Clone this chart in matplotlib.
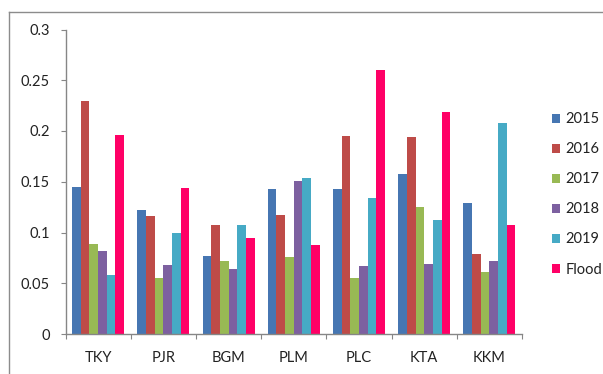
import matplotlib
matplotlib.use("Agg")
import matplotlib.pyplot as plt
from matplotlib.lines import Line2D
import numpy as np

# station codes and yearly index values
stations = ["TKY", "PJR", "BGM", "PLM", "PLC", "KTA", "KKM"]
series_names = ["2015", "2016", "2017", "2018", "2019", "Flood"]
v2015 = [0.145, 0.122, 0.077, 0.143, 0.143, 0.158, 0.129]
v2016 = [0.230, 0.116, 0.107, 0.117, 0.195, 0.194, 0.079]
v2017 = [0.089, 0.055, 0.072, 0.076, 0.055, 0.125, 0.061]
v2018 = [0.082, 0.068, 0.064, 0.151, 0.067, 0.069, 0.072]
v2019 = [0.058, 0.100, 0.107, 0.154, 0.134, 0.112, 0.208]
flood = [0.196, 0.144, 0.095, 0.088, 0.260, 0.219, 0.107]
yticks = [0, 0.05, 0.1, 0.15, 0.2, 0.25, 0.3]
ytick_labels = ["0", "0.05", "0.1", "0.15", "0.2", "0.25", "0.3"]

colors = ["#4676B2", "#BE4B48", "#98B954", "#7D60A0", "#46AAC5", "#FF0066"]
axis_gray = "#868686"

plt.rcParams["font.family"] = ["Lato", "DejaVu Sans"]

W, H = 603, 374
fig = plt.figure(figsize=(W / 100, H / 100), dpi=100)
ax = fig.add_axes([65.5 / W, (H - 334) / H, (522 - 65.5) / W, (334 - 29.5) / H])

data = [v2015, v2016, v2017, v2018, v2019, flood]
x = np.arange(len(stations))
bw = 0.133
for i, (vals, c, name) in enumerate(zip(data, colors, series_names)):
    ax.bar(x + (i - 2.5) * bw, vals, width=bw, color=c, label=name, linewidth=0)

ax.set_xlim(-0.5, len(stations) - 0.5)
ax.set_ylim(0, 0.3)
ax.set_yticks(yticks)
ax.set_yticklabels(ytick_labels)

# category dividers as major ticks, names on minor ticks
ax.set_xticks(np.arange(-0.5, len(stations), 1.0))
ax.set_xticklabels([])
ax.set_xticks(x, minor=True)
ax.set_xticklabels(stations, minor=True)
ax.tick_params(axis="x", which="major", length=3.5, color=axis_gray, direction="out")
ax.tick_params(axis="x", which="minor", length=0, pad=12, labelsize=10.5, labelcolor="#222222")
ax.tick_params(axis="y", length=3.5, color=axis_gray, pad=8, labelsize=10.5, labelcolor="#222222")

for s in ["top", "right"]:
    ax.spines[s].set_visible(False)
for s in ["left", "bottom"]:
    ax.spines[s].set_color(axis_gray)
    ax.spines[s].set_linewidth(1.0)

# chart area border (top and left edges visible)
fig.add_artist(Line2D([9 / W, 9 / W], [0, (H - 12) / H], color="#8c8c8c", lw=1.0,
                      transform=fig.transFigure))
fig.add_artist(Line2D([9 / W, 1], [(H - 12) / H, (H - 12) / H], color="#8c8c8c", lw=1.0,
                      transform=fig.transFigure))

fig.legend(loc="upper left", bbox_to_anchor=(545 / W, (H - 105) / H), frameon=False,
           fontsize=10.5, handlelength=0.55, handleheight=0.55, handletextpad=0.35,
           labelspacing=1.1, borderpad=0, labelcolor="#222222")

fig.savefig("out.png", dpi=100)
